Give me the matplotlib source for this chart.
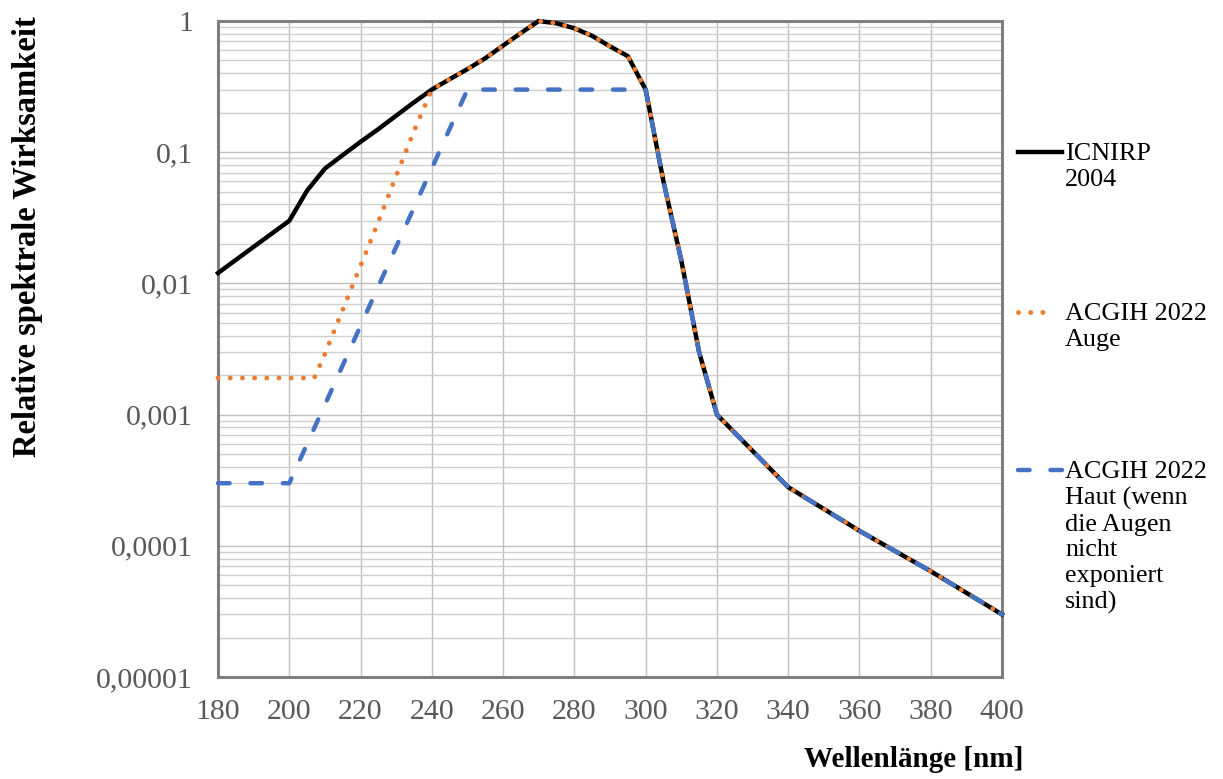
import matplotlib.pyplot as plt
from matplotlib.lines import Line2D
from matplotlib.ticker import FixedLocator, LogLocator, NullFormatter

plt.rcParams['font.family'] = ['Liberation Serif', 'DejaVu Serif']

# ICNIRP 2004 Wirkungsfunktion S(lambda)
icnirp_nm = [180, 190, 200, 205, 210, 215, 220, 225, 230, 235, 240, 245, 250, 255,
             260, 265, 270, 275, 280, 285, 290, 295, 300, 305, 310, 315, 320,
             340, 360, 380, 400]
icnirp_s = [0.012, 0.019, 0.030, 0.051, 0.075, 0.095, 0.120, 0.150, 0.190, 0.240,
            0.300, 0.360, 0.430, 0.520, 0.650, 0.810, 1.000, 0.960, 0.880, 0.770,
            0.640, 0.540, 0.300, 0.060, 0.015, 0.003, 0.0010,
            0.00028, 0.00013, 0.000064, 0.000030]

# ACGIH 2022 Auge: flach bis ca. 207 nm, dann Anstieg bis 240 nm
auge_nm = [180, 190, 200, 207, 210, 215, 220, 225, 230, 235]
auge_s = [0.0019, 0.0019, 0.0019, 0.0019, 0.0029, 0.0063, 0.0136, 0.0295, 0.066, 0.145]

# ACGIH 2022 Haut: flach bis 200 nm, Anstieg bis 250 nm, Plateau bis 300 nm
haut_nm = [180, 190, 200, 210, 220, 230, 240, 250, 260, 270, 280, 290]
haut_s = [0.0003, 0.0003, 0.0003, 0.00119, 0.00475, 0.019, 0.0754, 0.3, 0.3, 0.3, 0.3, 0.3]

# ab 240 nm (Auge) bzw. 300 nm (Haut) gilt die ICNIRP-Kurve
auge_x = auge_nm + [x for x in icnirp_nm if x >= 240]
auge_y = auge_s + [y for x, y in zip(icnirp_nm, icnirp_s) if x >= 240]
haut_x = haut_nm + [x for x in icnirp_nm if x >= 300]
haut_y = haut_s + [y for x, y in zip(icnirp_nm, icnirp_s) if x >= 300]

labels = ['ICNIRP\n2004', 'ACGIH 2022\nAuge',
          'ACGIH 2022\nHaut (wenn\ndie Augen\nnicht\nexponiert\nsind)']
colors = ['black', '#ED7D31', '#4472C4']
styles = ['-', (0, (0.01, 2.5)), (0, (2.6, 4.7))]
widths = [3.2, 3.5, 3.2]

fig = plt.figure(figsize=(12.23, 7.79), dpi=100)
ax = fig.add_axes([218 / 1223, 1 - 677 / 779, 784 / 1223, 656 / 779])

ax.plot(icnirp_nm, icnirp_s, color=colors[0], lw=widths[0], ls=styles[0],
        clip_on=False, zorder=3)
ax.plot(auge_x, auge_y, color=colors[1], lw=widths[1], ls=styles[1],
        dash_capstyle='round', clip_on=False, zorder=4)
ax.plot(haut_x, haut_y, color=colors[2], lw=widths[2], ls=styles[2],
        dash_capstyle='round', clip_on=False, zorder=5)

ax.set_yscale('log')
ax.set_xlim(180, 400)
ax.set_ylim(1e-5, 1)
ax.xaxis.set_major_locator(FixedLocator(range(180, 401, 20)))
ax.yaxis.set_minor_locator(LogLocator(base=10, subs=range(2, 10), numticks=20))
ax.yaxis.set_minor_formatter(NullFormatter())
ax.set_yticks([1e-5, 1e-4, 1e-3, 1e-2, 1e-1, 1])
ax.set_yticklabels(['0,00001', '0,0001', '0,001', '0,01', '0,1', '1'])

ax.grid(True, which='major', color='#bfbfbf', lw=1.0)
ax.grid(True, which='minor', axis='y', color='#cfcfcf', lw=1.0)
ax.set_axisbelow(True)
ax.tick_params(which='both', length=0, labelsize=21.5, labelcolor='#595959')
ax.tick_params(axis='x', pad=16)
ax.tick_params(axis='y', pad=18)
for sp in ax.spines.values():
    sp.set_color('#7f7f7f')
    sp.set_linewidth(2.2)

fig.text(1023 / 1223, 6 / 779, 'Wellenlänge [nm]', ha='right', va='bottom',
         fontsize=21, fontweight='bold')
fig.text(28 / 1223, 1 - 237 / 779, 'Relative spektrale Wirksamkeit', rotation=90,
         ha='center', va='center', fontsize=23.5, fontweight='bold')

# Legende rechts, Linie jeweils auf Höhe der ersten Textzeile
legend_y = [152, 312, 470]
legend_end = [1062, 1054, 1062]
for lab, col, st, lw, yy, xe in zip(labels, colors, styles, widths, legend_y, legend_end):
    yf = 1 - yy / 779
    fig.add_artist(Line2D([1018 / 1223, xe / 1223], [yf, yf], color=col, lw=lw,
                          ls=st, dash_capstyle='round', transform=fig.transFigure))
    fig.text(1065 / 1223, yf + 9 / 779, lab, ha='left', va='top', fontsize=18.8,
             linespacing=1.22)

fig.savefig('out.png', dpi=100)
